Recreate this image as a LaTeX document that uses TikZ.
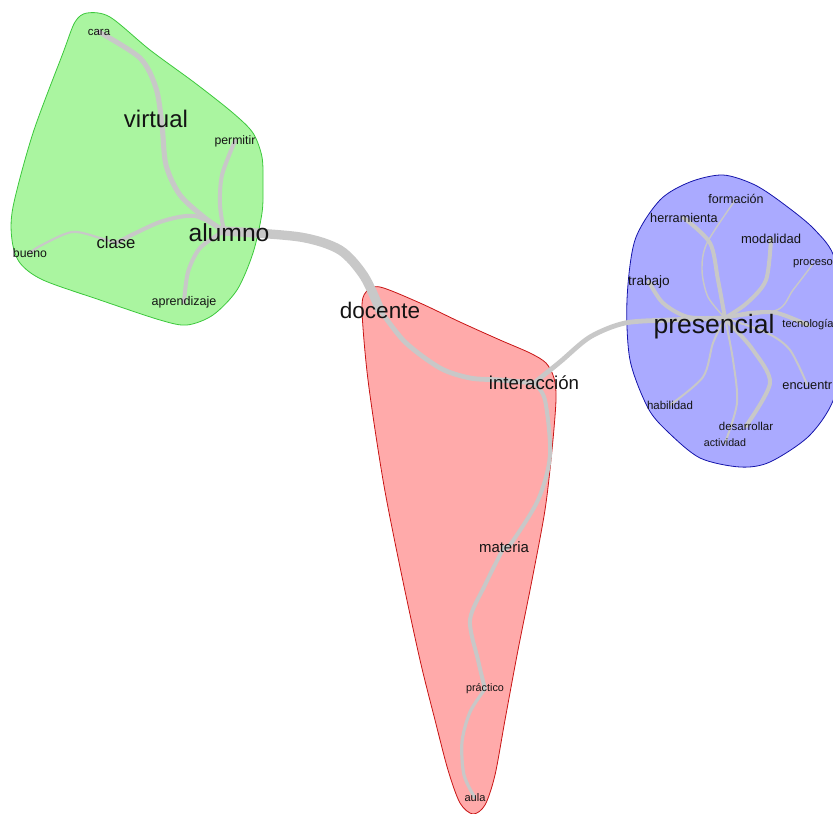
\documentclass[tikz,border=0pt]{standalone}
\usepackage{fontspec}
\setmainfont{Liberation Sans}
\pgfdeclarelayer{hulls}
\pgfdeclarelayer{edges}
\pgfsetlayers{hulls,edges,main}
\definecolor{gfill}{RGB}{170,245,160}
\definecolor{gline}{RGB}{60,200,60}
\definecolor{rfill}{RGB}{255,170,170}
\definecolor{rline}{RGB}{200,20,20}
\definecolor{bfill}{RGB}{170,170,255}
\definecolor{bline}{RGB}{20,20,170}
\definecolor{edgec}{RGB}{200,200,200}
\definecolor{txt}{RGB}{20,20,20}
\tikzset{
  lbl/.style={inner sep=0pt, text=txt, font=\fontsize{#1}{#1}\selectfont},
  lbl/.default=8.5,
  edg/.style={draw=edgec, line width=#1, line cap=round, line join=round},
  hull/.style={line width=0.6pt, tension=0.5}
}
\begin{document}
\begin{tikzpicture}[x=0.75pt,y=-0.75pt]
\useasboundingbox (0,0) rectangle (833,814);
% nodes
\node[lbl=8.6] (cara) at (99,32) {cara};
\node[lbl=18] (virtual) at (156,119) {virtual};
\node[lbl=9.2] (permitir) at (235,141) {permitir};
\node[lbl=18.5] (alumno) at (229,233) {alumno};
\node[lbl=12.5] (clase) at (116,243) {clase};
\node[lbl=9.2] (bueno) at (30,253) {bueno};
\node[lbl=9.4] (aprendizaje) at (184,302) {aprendizaje};
\node[lbl=16.9] (docente) at (380,310) {docente};
\node[lbl=14] (interaccion) at (534,383) {interacción};
\node[lbl=11.2] (materia) at (504,547) {materia};
\node[lbl=8.1] (practico) at (485,689) {práctico};
\node[lbl=8.3] (aula) at (475,798) {aula};
\node[lbl=19.9] (presencial) at (714,327) {presencial};
\node[lbl=9.4] (formacion) at (736,199) {formación};
\node[lbl=9.5] (herramienta) at (684,218) {herramienta};
\node[lbl=9.75] (modalidad) at (771,239) {modalidad};
\node[lbl=8.4] (proceso) at (813,264) {proceso};
\node[lbl=10.2] (trabajo) at (649,282) {trabajo};
\node[lbl=8.3] (tecnologia) at (808,325) {tecnología};
\node[lbl=9.6, anchor=east] (encuentro) at (832.5,385) {encuentr};
\node[lbl=8.6] (habilidad) at (670,405) {habilidad};
\node[lbl=8.6] (desarrollar) at (746,426) {desarrollar};
\node[lbl=8] (actividad) at (725,443) {actividad};
\coordinate (ph) at (725,318);
\coordinate (ah) at (224,231);
\begin{pgfonlayer}{hulls}
\filldraw[hull, fill=gfill, draw=gline] plot[smooth cycle] coordinates {
 (87,13) (110,17) (150,50) (195,83) (233,113) (253,133) (262,157) (263,185)
 (262,213) (253,253) (237,290) (213,315) (187,325) (160,320) (100,300)
 (43,280) (20,263) (12,240) (13,207) (33,133) (63,53) (75,22)};
\filldraw[hull, fill=rfill, draw=rline] plot[smooth cycle] coordinates {
 (380,287) (420,303) (460,322) (500,340) (530,353) (546,363) (554,378)
 (556,400) (552,450) (545,510) (532,580) (518,650) (505,720) (495,775)
 (485,805) (473,814) (460,803) (448,770) (435,720) (420,660)
 (400,567) (383,480) (368,380) (362,310) (366,292)};
\filldraw[hull, fill=bfill, draw=bline] plot[smooth cycle] coordinates {
 (723,175) (755,185) (785,205) (815,230) (835,260) (840,330) (835,395)
 (810,435) (770,462) (740,467) (700,458) (668,432) (648,408) (630,360)
 (627,300) (635,240) (660,200) (690,182)};
\end{pgfonlayer}
\begin{pgfonlayer}{edges}
% green
\draw[edg=3.8pt] plot[smooth] coordinates {(cara.center) (140,58) (156,88) (162,125) (166,165) (180,195) (205,218) (ah)};
\draw[edg=3pt] plot[smooth] coordinates {(permitir.center) (222,175) (220,205) (ah)};
\draw[edg=3pt] plot[smooth] coordinates {(clase.center) (160,222) (195,216) (ah)};
\draw[edg=1.6pt] plot[smooth] coordinates {(bueno.center) (40,246) (72,232) (100,238) (clase.center)};
\draw[edg=3pt] plot[smooth] coordinates {(aprendizaje.center) (188,272) (200,248) (ah)};
% red
\draw[edg=7pt] plot[smooth] coordinates {(ah) (300,237) (340,250) (364,276) (docente.center)};
\draw[edg=3.6pt] plot[smooth] coordinates {(docente.center) (405,342) (440,368) (470,378) (500,380) (interaccion.center)};
\draw[edg=3.6pt] plot[smooth] coordinates {(interaccion.center) (560,362) (590,337) (625,323) (670,320) (ph)};
\draw[edg=3pt] plot[smooth] coordinates {(interaccion.center) (545,400) (550,455) (538,500) (510,545) (materia.center)};
\draw[edg=3pt] plot[smooth] coordinates {(materia.center) (485,585) (470,620) (478,660) (practico.center)};
\draw[edg=2.4pt] plot[smooth] coordinates {(practico.center) (470,712) (462,742) (464,775) (aula.center)};
% blue
\draw[edg=3pt] plot[smooth] coordinates {(trabajo.center) (663,303) (688,317) (ph)};
\draw[edg=3pt] plot[smooth] coordinates {(herramienta.center) (710,243) (718,280) (ph)};
\draw[edg=1.1pt] plot[smooth] coordinates {(formacion.center) (707,243) (702,270) (708,297) (ph)};
\draw[edg=3pt] plot[smooth] coordinates {(modalidad.center) (766,280) (747,303) (ph)};
\draw[edg=1.1pt] plot[smooth] coordinates {(proceso.center) (793,290) (777,310) (ph)};
\draw[edg=3pt] plot[smooth] coordinates {(tecnologia.center) (777,313) (750,313) (ph)};
\draw[edg=1.5pt] plot[smooth] coordinates {(encuentro.center) (790,350) (767,333) (ph)};
\draw[edg=3pt] plot[smooth] coordinates {(desarrollar.center) (770,383) (753,350) (733,327) (ph)};
\draw[edg=1.5pt] plot[smooth] coordinates {(actividad.center) (737,403) (733,360) (ph)};
\draw[edg=1.5pt] plot[smooth] coordinates {(habilidad.center) (703,377) (713,343) (ph)};
\end{pgfonlayer}
\end{tikzpicture}
\end{document}
